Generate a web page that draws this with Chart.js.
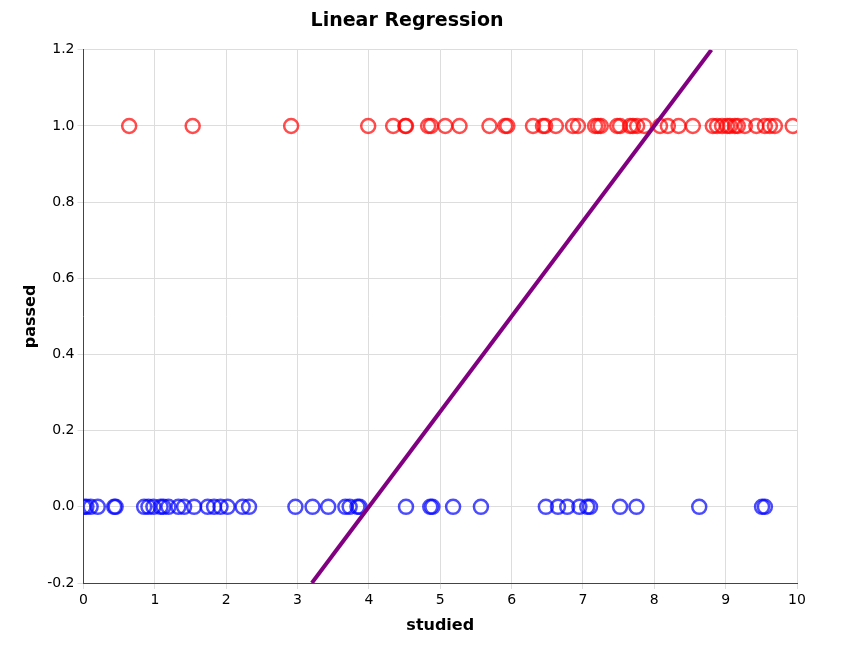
<!DOCTYPE html>
<html>
<head>
<meta charset="utf-8">
<script src="https://cdn.jsdelivr.net/npm/chart.js@4"></script>
<style>
  body { margin: 0; background: #fff; }
  #wrap { width: 842px; height: 645px; }
</style>
</head>
<body>
<div id="wrap"><canvas id="chart"></canvas></div>
<script>
// hours studied, students who passed
const passedX = [0.64, 1.53, 2.91, 3.99, 4.34, 4.51, 4.52, 4.83, 4.87, 5.07, 5.27, 5.69, 5.91, 5.94,
  6.30, 6.44, 6.47, 6.62, 6.86, 6.93, 7.17, 7.21, 7.25, 7.48, 7.52, 7.66, 7.70, 7.76, 7.86, 8.08,
  8.19, 8.34, 8.54, 8.82, 8.88, 8.95, 9.02, 9.06, 9.13, 9.17, 9.27, 9.43, 9.55, 9.62, 9.69, 9.94];
// hours studied, students who failed
const failedX = [0, 0.04, 0.1, 0.2, 0.43, 0.45, 0.85, 0.91, 0.98, 1.08, 1.12, 1.19, 1.33, 1.41,
  1.55, 1.74, 1.83, 1.92, 2.02, 2.23, 2.32, 2.97, 3.21, 3.43, 3.67, 3.73, 3.84, 3.87, 4.52, 4.86,
  4.89, 5.18, 5.57, 6.48, 6.65, 6.78, 6.95, 7.06, 7.10, 7.52, 7.75, 8.63, 9.51, 9.55];
// fitted line endpoints
const fitX = [3.2, 8.8];
const fitY = [-0.2, 1.2];

const font = { family: "DejaVu Sans", size: 14 };
const bold = { family: "DejaVu Sans", size: 16, weight: "bold" };

new Chart(document.getElementById("chart"), {
  type: "scatter",
  data: {
    datasets: [
      {
        type: "line",
        data: fitX.map((x, i) => ({ x: x, y: fitY[i] })),
        borderColor: "#800080",
        borderWidth: 4,
        pointRadius: 0,
        fill: false,
      },
      {
        data: passedX.map((x) => ({ x: x, y: 1 })),
        borderColor: "rgba(255,0,0,0.7)",
        backgroundColor: "transparent",
        borderWidth: 2.5,
        pointRadius: 7,
      },
      {
        data: failedX.map((x) => ({ x: x, y: 0 })),
        borderColor: "rgba(0,0,255,0.7)",
        backgroundColor: "transparent",
        borderWidth: 2.5,
        pointRadius: 7,
      },
    ],
  },
  options: {
    responsive: true,
    maintainAspectRatio: false,
    animation: false,
    layout: { padding: { left: 17, right: 45, top: 2, bottom: 6 } },
    plugins: {
      legend: { display: false },
      tooltip: { enabled: false },
      title: { display: true, text: "Linear Regression", font: { family: "DejaVu Sans", size: 19, weight: "bold" }, color: "#000", padding: { top: 8, bottom: 17 } },
    },
    scales: {
      x: {
        type: "linear",
        min: 0,
        max: 10,
        ticks: { stepSize: 1, font: font, color: "#000" },
        grid: { color: "#ddd", tickLength: 6 },
        border: { color: "#444" },
        title: { display: true, text: "studied", font: bold, color: "#000" },
      },
      y: {
        min: -0.2,
        max: 1.2,
        ticks: { stepSize: 0.2, font: font, color: "#000", callback: (v) => (Math.abs(v) < 1e-9 ? 0 : v).toFixed(1) },
        grid: { color: "#ddd", tickLength: 6 },
        border: { color: "#444" },
        title: { display: true, text: "passed", font: bold, color: "#000" },
      },
    },
  },
});
</script>
</body>
</html>
